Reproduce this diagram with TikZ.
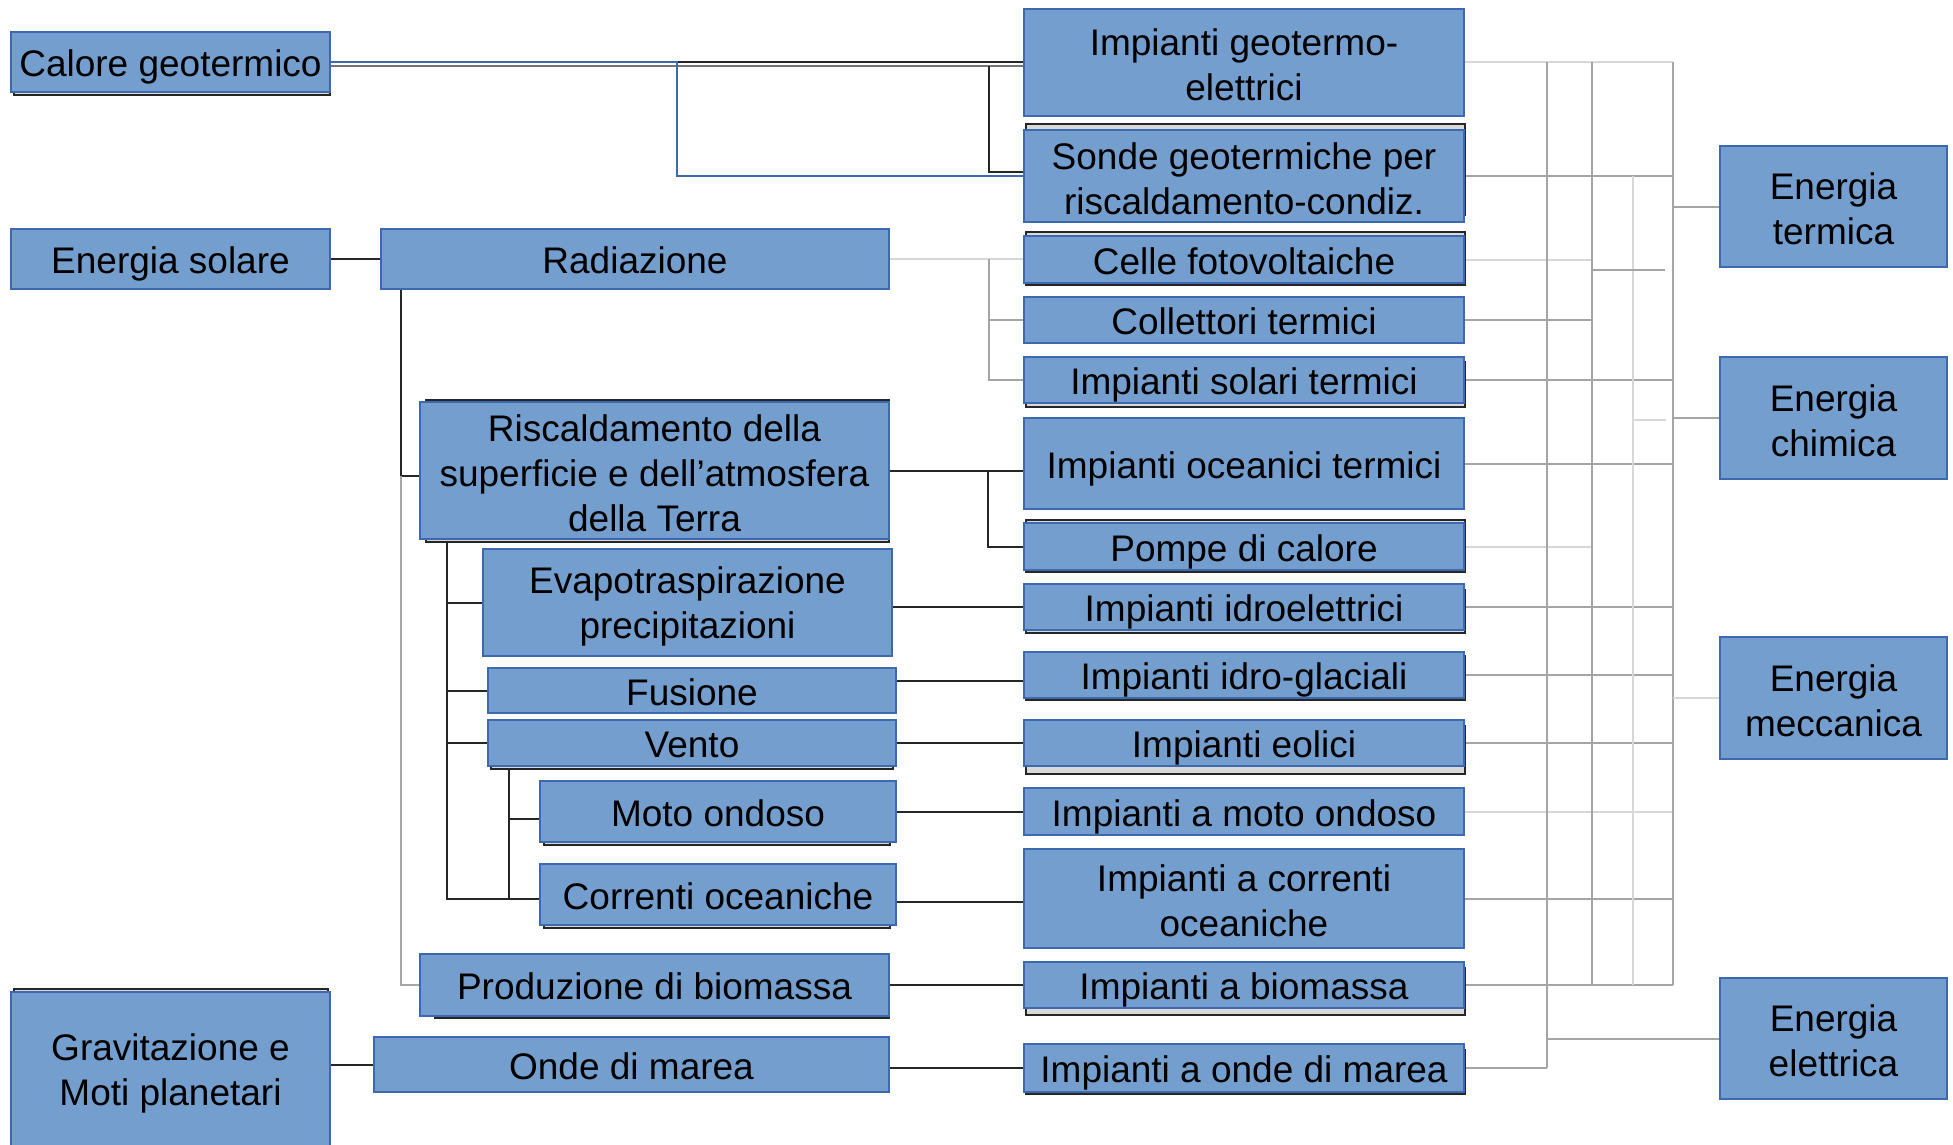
\documentclass[tikz,border=0pt]{standalone}
\usepackage{fontspec}
\setmainfont{Liberation Sans}
\usetikzlibrary{backgrounds}
\definecolor{boxfill}{RGB}{115,158,206}
\definecolor{boxdraw}{RGB}{60,105,175}
\definecolor{backfill}{RGB}{217,217,217}
\definecolor{lg}{RGB}{165,165,165}
\definecolor{llg}{RGB}{215,215,215}
\definecolor{lineblue}{RGB}{60,105,175}
\tikzset{
 box/.style={draw=boxdraw, fill=boxfill, line width=2pt, inner sep=0pt, align=center, font=\fontsize{37}{45}\selectfont},
 one/.style={text height=37pt, text depth=7.8pt},
 backbox/.style={draw=black!85, fill=backfill, line width=2pt},
 conn/.style={draw=black!85, line width=2pt},
 gconn/.style={draw=lg, line width=2pt},
 lconn/.style={draw=llg, line width=2pt},
 bconn/.style={draw=lineblue, line width=1.6pt},
}
\newcommand{\tstr}[1]{\rule{0pt}{#1}}
\newcommand{\bx}[7][]{\node[box,#1,minimum width={(#5-#3)*1pt},minimum height={(#6-#4)*1pt}] (#2) at ({(#3+#5)/2},{(#4+#6)/2}) {#7};}
\newcommand{\bk}[4]{\draw[backbox] (#1,#2) rectangle (#3,#4);}
\begin{document}
\begin{tikzpicture}[x=1pt,y=-1pt]
\useasboundingbox (0,0) rectangle (1953,1145);
% back (shadow) boxes
\bk{14}{36}{330}{95}
\bk{14}{989}{328}{1146}
\bk{426}{400}{889}{542}
\bk{491}{726}{893}{769}
\bk{544}{790}{890}{845}
\bk{544}{870}{890}{928}
\bk{435}{960}{889}{1018}
\bk{1026}{124}{1465}{215}
\bk{1026}{232}{1465}{285}
\bk{1026}{362}{1465}{407}
\bk{1026}{520}{1465}{572}
\bk{1026}{590}{1465}{633}
\bk{1026}{656}{1465}{700}
\bk{1026}{726}{1465}{774}
\bk{1026}{968}{1465}{1015}
\bk{1026}{1050}{1465}{1094}
% left column
\bx[one]{cal}{11}{32}{330}{92}{Calore geotermico}
\bx[one]{sol}{11}{229}{330}{289}{Energia solare}
\bx{grav}{11}{992}{330}{1146}{\tstr{35pt}Gravitazione e\\Moti planetari}
% middle-left column
\bx[one]{rad}{381}{229}{889}{289}{Radiazione}
\bx{risc}{420}{402}{889}{539}{\tstr{32pt}Riscaldamento della\\superficie e dell’atmosfera\\della Terra}
\bx{evap}{483}{549}{892}{656}{\tstr{34pt}Evapotraspirazione\\precipitazioni}
\bx[one]{fus}{488}{668}{896}{713}{Fusione}
\bx[one]{vento}{488}{720}{896}{766}{Vento}
\bx[one]{moto}{540}{781}{896}{842}{Moto ondoso}
\bx[one]{corr}{540}{864}{896}{925}{Correnti oceaniche}
\bx[one]{biom}{420}{954}{889}{1016}{Produzione di biomassa}
\bx[one]{onde}{374}{1037}{889}{1092}{Onde di marea}
% impianti column
\bx{geo}{1024}{9}{1464}{116}{\tstr{32pt}Impianti geotermo-\\elettrici}
\bx{sonde}{1024}{130}{1464}{222}{\tstr{32pt}Sonde geotermiche per\\riscaldamento-condiz.}
\bx[one]{celle}{1024}{236}{1464}{283}{Celle fotovoltaiche}
\bx[one]{coll}{1024}{297}{1464}{343}{Collettori termici}
\bx[one]{solt}{1024}{357}{1464}{403}{Impianti solari termici}
\bx[one]{oceT}{1024}{418}{1464}{509}{Impianti oceanici termici}
\bx[one]{pompe}{1024}{523}{1464}{570}{Pompe di calore}
\bx[one]{idro}{1024}{584}{1464}{630}{Impianti idroelettrici}
\bx[one]{glac}{1024}{652}{1464}{698}{Impianti idro-glaciali}
\bx[one]{eol}{1024}{720}{1464}{766}{Impianti eolici}
\bx[one]{imoto}{1024}{788}{1464}{835}{Impianti a moto ondoso}
\bx{icorr}{1024}{849}{1464}{948}{\tstr{32pt}Impianti a correnti\\oceaniche}
\bx[one]{ibiom}{1024}{962}{1464}{1008}{Impianti a biomassa}
\bx[one]{ionde}{1024}{1044}{1464}{1092}{Impianti a onde di marea}
% energy column
\bx{eterm}{1720}{146}{1947}{267}{\tstr{32pt}Energia\\termica}
\bx{echim}{1720}{357}{1947}{479}{\tstr{32pt}Energia\\chimica}
\bx{emecc}{1720}{637}{1947}{759}{\tstr{32pt}Energia\\meccanica}
\bx{eelet}{1720}{978}{1947}{1099}{\tstr{32pt}Energia\\elettrica}
% junction coordinates
\coordinate (bj) at (677,62);
\coordinate (gj) at (989,66);
\coordinate (rj) at (989,259);
\coordinate (rv) at (401,289);
\coordinate (rv2) at (401,476);
\coordinate (oj) at (988,470);
\coordinate (cv) at (447,539);
\coordinate (vv) at (509,766);
\coordinate (X1) at (1547,0);
\coordinate (X2) at (1592,0);
\coordinate (X3) at (1633,0);
\coordinate (X4) at (1673,0);
\coordinate (s1a) at (1592,270);
\coordinate (s1b) at (1665,270);
\coordinate (s2a) at (1633,420);
\coordinate (s2b) at (1666,420);
\coordinate (risw) at (401,476);
\coordinate (corw) at (540,899);
\coordinate (motw) at (540,818.5);
\coordinate (glw) at (1024,681);
\coordinate (cow) at (1024,902);
\coordinate (sow) at (1024,172);
\coordinate (gy) at (0,62);
\coordinate (sy) at (0,176);
\coordinate (cy) at (0,66);
\begin{pgfonlayer}{background}
% geothermal
\draw[conn,draw=black!55] (cal.east |- cy) -- (geo.west |- cy);
\draw[conn] (bj) -- (geo.west |- gy);
\draw[bconn] (cal.east |- gy) -- (bj) -- (bj |- sy) -- (sonde.west |- sy);
\draw[conn] (gj) |- (sow);
% solar
\draw[conn] (sol.east) -- (sol.east -| rad.west);
\draw[lconn] (rad.east) -- (rad.east -| celle.west);
\draw[gconn] (rj) |- (solt.west);
\draw[gconn] (rj |- coll.west) -- (coll.west);
\draw[conn] (rv) -- (risw) -- (risw -| risc.west);
\draw[gconn] (rv2) |- (biom.west);
\draw[conn] (risc.east) -- (risc.east -| oceT.west);
\draw[conn] (oj) |- (pompe.west);
\draw[conn] (cv) |- (evap.west);
\draw[conn] (cv) |- (fus.west);
\draw[conn] (cv) |- (vento.west);
\draw[conn] (cv) |- (corw);
\draw[conn] (vv) |- (motw);
\draw[conn] (vv) |- (corw);
\draw[conn] (evap.east |- idro.west) -- (idro.west);
\draw[conn] (glw -| fus.east) -- (glw);
\draw[conn] (vento.east) -- (vento.east -| eol.west);
\draw[conn] (moto.east |- imoto.west) -- (imoto.west);
\draw[conn] (cow -| corr.east) -- (cow);
\draw[conn] (biom.east) -- (biom.east -| ibiom.west);
\draw[conn] (grav.east |- onde.west) -- (onde.west);
\draw[conn] (onde.east |- ionde.west) -- (ionde.west);
% right side collectors
\draw[lconn] (geo.east) -- (geo.east -| X4);
\draw[gconn] (sonde.east) -- (sonde.east -| X4);
\draw[lconn] (celle.east) -- (celle.east -| X2);
\draw[gconn] (coll.east) -- (coll.east -| X2);
\draw[gconn] (solt.east) -- (solt.east -| X4);
\draw[gconn] (oceT.east) -- (oceT.east -| X4);
\draw[lconn] (pompe.east) -- (pompe.east -| X2);
\draw[gconn] (idro.east) -- (idro.east -| X4);
\draw[gconn] (glac.east) -- (glac.east -| X4);
\draw[gconn] (eol.east) -- (eol.east -| X4);
\draw[lconn] (imoto.east) -- (imoto.east -| X4);
\draw[gconn] (icorr.east) -- (icorr.east -| X4);
\draw[gconn] (ibiom.east) -- (ibiom.east -| X4);
\draw[gconn] (ionde.east) -- (ionde.east -| X1);
\draw[gconn] (geo.east -| X1) -- (ionde.east -| X1);
\draw[gconn] (geo.east -| X2) -- (ibiom.east -| X2);
\draw[lconn] (sonde.east -| X3) -- (ibiom.east -| X3);
\draw[gconn] (geo.east -| X4) -- (ibiom.east -| X4);
\draw[gconn] (s1a) -- (s1b);
\draw[lconn] (s2a) -- (s2b);
\draw[gconn] (eterm.west -| X4) -- (eterm.west);
\draw[gconn] (echim.west -| X4) -- (echim.west);
\draw[lconn] (emecc.west -| X4) -- (emecc.west);
\draw[gconn] (eelet.west -| X1) -- (eelet.west);
\end{pgfonlayer}
\end{tikzpicture}
\end{document}
